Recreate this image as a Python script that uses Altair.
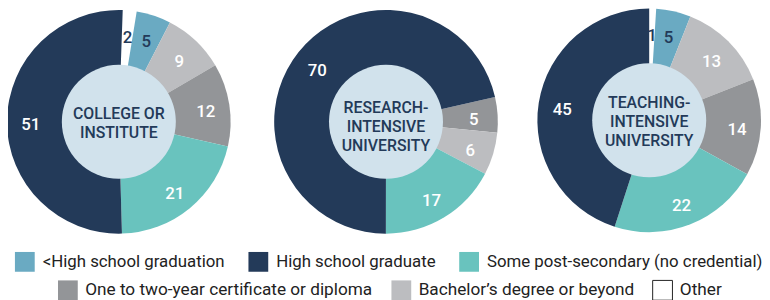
import math
import altair as alt
import pandas as pd

# ---- data ----
categories = [
    "<High school graduation",
    "High school graduate",
    "Some post-secondary (no credential)",
    "One to two-year certificate or diploma",
    "Bachelor\u2019s degree or beyond",
    "Other",
]
colors = ["#6aaac2", "#233a59", "#69c3be", "#939598", "#bcbdc0", "#ffffff"]

pie_names = ["College or institute", "Research-intensive university", "Teaching-intensive university"]
pie_titles = ["COLLEGE OR\nINSTITUTE", "RESEARCH-\nINTENSIVE\nUNIVERSITY", "TEACHING-\nINTENSIVE\nUNIVERSITY"]

# slices listed clockwise from the start angle
college_cats = ["Other", "<High school graduation", "Bachelor\u2019s degree or beyond",
                "One to two-year certificate or diploma", "Some post-secondary (no credential)",
                "High school graduate"]
college_vals = [2, 5, 9, 12, 21, 51]

research_cats = ["One to two-year certificate or diploma", "Bachelor\u2019s degree or beyond",
                 "Some post-secondary (no credential)", "High school graduate"]
research_vals = [5, 6, 17, 70]

teaching_cats = ["Other", "<High school graduation", "Bachelor\u2019s degree or beyond",
                 "One to two-year certificate or diploma", "Some post-secondary (no credential)",
                 "High school graduate"]
teaching_vals = [1, 5, 13, 14, 22, 45]

# ---- layout ----
W, H = 762, 292
centers_x = [112, 382, 648]
centers_y = [113.5, 113.5, 112]
start_deg = [2, 77.2, 0]
title_dy = [-7.5, -13.5, -17]
R_OUT, R_IN, R_LABEL = 113, 65, 89
NAVY = "#233a59"

rows = []
for name, cats, vals in zip(pie_names, [college_cats, research_cats, teaching_cats],
                            [college_vals, research_vals, teaching_vals]):
    for i, (c, v) in enumerate(zip(cats, vals)):
        rows.append({"pie": name, "category": c, "value": v, "order": i})
df = pd.DataFrame(rows)

legend_common = dict(
    orient="none", direction="horizontal", title=None, symbolType="square",
    symbolSize=400, labelFont="Roboto", labelColor="#222222",
    labelLimit=600, labelOffset=7, symbolOpacity=1,
)
legend_a = alt.Legend(values=categories[:3], legendX=6, legendY=244, columnPadding=22,
                      labelFontSize=17, **legend_common)
legend_b = alt.Legend(
    values=categories[3:], legendX=50, legendY=273, columnPadding=16, labelFontSize=17.4,
    symbolStrokeWidth=1,
    symbolStrokeColor={"expr": "datum.value === 'Other' ? '#222222' : 'transparent'"},
    **legend_common,
)
legends = [legend_a, legend_b, None]

pies = []
for k, name in enumerate(pie_names):
    s = math.radians(start_deg[k])
    base = alt.Chart(df).transform_filter(alt.datum.pie == name)
    theta = alt.Theta("value:Q", stack=True, scale=alt.Scale(range=[s, s + 2 * math.pi]))
    color_kw = dict(scale=alt.Scale(domain=categories, range=colors))
    if legends[k] is None:
        color_kw["legend"] = None
    else:
        color_kw["legend"] = legends[k]
    arcs = base.mark_arc(radius=R_OUT).encode(
        theta=theta,
        order=alt.Order("order:Q"),
        color=alt.Color("category:N", **color_kw),
        x=alt.value(centers_x[k]),
        y=alt.value(centers_y[k]),
    )
    labels = base.mark_text(radius=R_LABEL, font="Roboto", fontSize=17, fontWeight=500, dy=4).encode(
        theta=theta,
        order=alt.Order("order:Q"),
        text=alt.Text("value:Q"),
        color=alt.condition(
            "datum.category == 'Other' || datum.category == '<High school graduation'",
            alt.value(NAVY), alt.value("white")),
        x=alt.value(centers_x[k]),
        y=alt.value(centers_y[k]),
    )
    tdf = pd.DataFrame({"title": [pie_titles[k]]})
    circle = alt.Chart(tdf).mark_circle(size=math.pi * R_IN ** 2, opacity=1, color="#d1e2ec").encode(
        x=alt.value(centers_x[k]), y=alt.value(centers_y[k]))
    title = alt.Chart(tdf).mark_text(
        lineBreak="\n", font="Roboto", fontSize=16, fontWeight=500, color=NAVY,
        lineHeight=19, baseline="middle", dy=title_dy[k],
    ).encode(text="title:N", x=alt.value(centers_x[k]), y=alt.value(centers_y[k]))
    pies.append(alt.layer(arcs, labels, circle, title))

chart = alt.layer(*pies).resolve_scale(
    theta="independent", color="independent"
).resolve_legend(color="independent").properties(
    width=W, height=H, padding=0, autosize=alt.AutoSizeParams(type="none")
).configure_view(stroke=None)

chart.save("out.html", embed_options={"renderer": "svg", "actions": False})
